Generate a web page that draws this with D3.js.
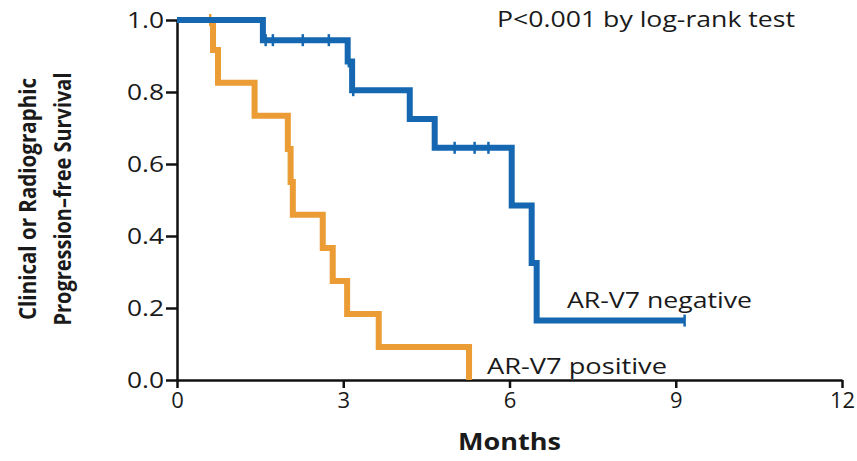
<!DOCTYPE html>
<html>
<head>
<meta charset="utf-8">
<script src="https://cdn.jsdelivr.net/npm/d3@7"></script>
<style>
  body { margin: 0; background: #fff; }
  text { font-family: "Open Sans", Lato, sans-serif; fill: #1a1a1a; }
</style>
</head>
<body>
<div id="vis"></div>
<script>
/* AR-V7 negative: step times (months) and survival after each step */
const negTimes  = [0, 1.55, 3.08, 3.16, 4.2, 4.65, 6.04, 6.4, 6.49];
const negSurv   = [1.0, 0.944, 0.885, 0.805, 0.725, 0.645, 0.485, 0.325, 0.165];
const negEnd    = 9.16;
const negCensor = [1.6, 1.73, 2.27, 2.74, 3.1, 3.18, 5.01, 5.37, 5.62, 9.16];

/* AR-V7 positive */
const posTimes  = [0, 0.65, 0.74, 1.4, 2.0, 2.05, 2.09, 2.63, 2.81, 3.07, 3.64, 5.27];
const posSurv   = [1.0, 0.917, 0.826, 0.734, 0.642, 0.55, 0.459, 0.367, 0.275, 0.183, 0.092, 0];
const posEnd    = 5.27;
const posCensor = [0.6];

const xTicks = [0, 3, 6, 9, 12];
const yTicks = [0, 0.2, 0.4, 0.6, 0.8, 1.0];

const W = 857, H = 461;
const blue = "#1467b0", orange = "#eb9c34";

const svg = d3.select("#vis").append("svg")
    .attr("width", W).attr("height", H);

const x = d3.scaleLinear().domain([0, 12]).range([177, 842]);
const y = d3.scaleLinear().domain([0, 1]).range([380, 20]);

/* build step points from times/values */
function stepPts(times, surv, end){
  const pts = times.map((t,i) => [t, surv[i]]);
  pts.push([end, surv[surv.length-1]]);
  return pts;
}
function survAt(times, surv, t){
  let s = surv[0];
  times.forEach((tt,i) => { if(tt <= t) s = surv[i]; });
  return s;
}

const line = d3.line().x(d=>x(d[0])).y(d=>y(d[1])).curve(d3.curveStepAfter);

const curves = [
  {times: posTimes, surv: posSurv, end: posEnd, cens: posCensor, col: orange},
  {times: negTimes, surv: negSurv, end: negEnd, cens: negCensor, col: blue}
];

/* axes */
const xAxis = svg.append("g")
    .attr("transform", `translate(0,${y(0)})`)
    .call(d3.axisBottom(x).tickValues(xTicks).tickSize(8).tickPadding(2)
      .tickSizeOuter(0).tickFormat(d3.format("d")));
const yAxis = svg.append("g")
    .attr("transform", `translate(${x(0)},0)`)
    .call(d3.axisLeft(y).tickValues(yTicks).tickSize(11).tickPadding(2)
      .tickSizeOuter(0).tickFormat(d3.format(".1f")));

[xAxis, yAxis].forEach(a => {
  a.select(".domain").attr("stroke","#111").attr("stroke-width",2.5);
  a.selectAll(".tick line").attr("stroke","#111").attr("stroke-width",2.5);
  a.selectAll(".tick text").attr("font-size",22).attr("fill","#1a1a1a")
    .attr("font-family","'Open Sans', sans-serif");
});
xAxis.selectAll(".tick text").attr("dy","0.8em");
yAxis.selectAll(".tick text").attr("dy","0.35em")
  .attr("textLength",37).attr("lengthAdjust","spacingAndGlyphs");

curves.forEach(c => {
  svg.append("path")
    .attr("d", line(stepPts(c.times, c.surv, c.end)))
    .attr("fill","none").attr("stroke",c.col)
    .attr("stroke-width",6).attr("stroke-linejoin","miter");

  // censor ticks
  svg.selectAll(null).data(c.cens).enter().append("line")
    .attr("x1", d=>x(d)).attr("x2", d=>x(d))
    .attr("y1", d=>y(survAt(c.times, c.surv, d)) - 6)
    .attr("y2", d=>y(survAt(c.times, c.surv, d)) + 6)
    .attr("stroke", c.col).attr("stroke-width", 2.5);
});

/* labels */
function label(tx, ty, str, len){
  svg.append("text").attr("x", tx).attr("y", ty)
    .attr("font-size", 21)
    .attr("textLength", len).attr("lengthAdjust","spacingAndGlyphs")
    .text(str);
}
label(497, 27, "P<0.001 by log-rank test", 298);
label(567, 308, "AR-V7 negative", 185);
label(487, 374, "AR-V7 positive", 180);

svg.append("text").attr("x", 458).attr("y", 450)
  .attr("font-size", 23).attr("font-weight","bold")
  .attr("textLength", 103).attr("lengthAdjust","spacingAndGlyphs")
  .text("Months");

const yt = svg.append("text")
  .attr("transform","translate(0,199) rotate(-90)")
  .attr("text-anchor","middle").attr("font-size", 24).attr("font-weight","bold")
  .attr("font-family","Lato, sans-serif");
yt.append("tspan").attr("x",0).attr("y",36)
  .attr("textLength",242).attr("lengthAdjust","spacingAndGlyphs")
  .text("Clinical or Radiographic");
yt.append("tspan").attr("x",0).attr("y",71)
  .attr("textLength",253).attr("lengthAdjust","spacingAndGlyphs")
  .text("Progression–free Survival");
</script>
</body>
</html>
